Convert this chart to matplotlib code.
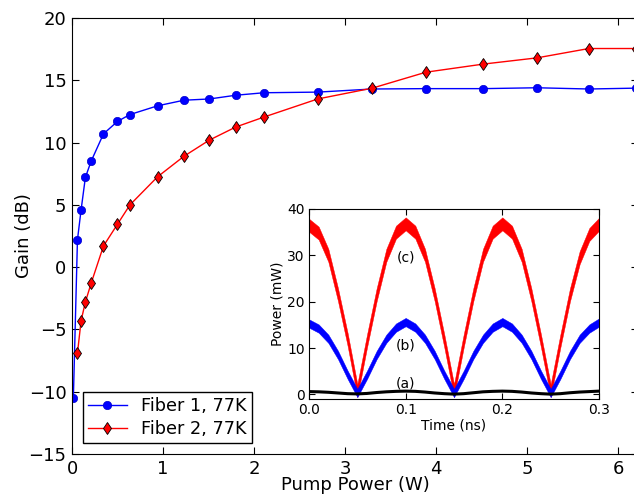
import matplotlib.pyplot as plt
import numpy as np

# Gain vs pump power, two fibers at 77 K
pump_w = [0.0, 0.015, 0.06, 0.10, 0.147, 0.21, 0.346, 0.50, 0.637, 0.94, 1.23,
          1.51, 1.80, 2.11, 2.70, 3.30, 3.89, 4.52, 5.11, 5.68, 6.20]
gain_fiber1 = [np.nan, -10.5, 2.2, 4.6, 7.2, 8.5, 10.7, 11.7, 12.25, 12.95, 13.4,
               13.5, 13.8, 14.0, 14.05, 14.3, 14.33, 14.33, 14.4, 14.3, 14.37]
gain_fiber2 = [-16.3, np.nan, -6.9, -4.3, -2.8, -1.3, 1.7, 3.45, 5.0, 7.25, 8.9,
               10.2, 11.25, 12.05, 13.5, 14.37, 15.65, 16.3, 16.8, 17.55, 17.55]

# Inset: output power traces (a), (b), (c)
time_ns = [0.00, 0.01, 0.02, 0.03, 0.04, 0.05, 0.06, 0.07, 0.08, 0.09, 0.10,
           0.11, 0.12, 0.13, 0.14, 0.15, 0.16, 0.17, 0.18, 0.19, 0.20,
           0.21, 0.22, 0.23, 0.24, 0.25, 0.26, 0.27, 0.28, 0.29, 0.30]
trace_c = [36.5, 34.8, 30.0, 21.5, 11.8, 0.8, 11.5, 21.5, 30.0, 35.0, 36.8,
           35.0, 30.0, 21.5, 11.5, 0.8, 11.5, 21.5, 30.0, 35.0, 36.8,
           35.0, 30.0, 21.5, 11.5, 0.8, 11.5, 21.5, 29.5, 34.5, 36.7]
trace_b = [15.3, 14.2, 12.0, 8.5, 4.2, 0.3, 4.2, 8.5, 12.0, 14.4, 15.6,
           14.4, 12.0, 8.5, 4.2, 0.3, 4.2, 8.5, 12.0, 14.4, 15.6,
           14.4, 12.0, 8.5, 4.2, 0.3, 4.2, 8.5, 12.0, 14.2, 15.5]
trace_a = [0.6, 0.55, 0.45, 0.3, 0.15, 0.1, 0.2, 0.4, 0.55, 0.65, 0.7,
           0.65, 0.5, 0.3, 0.15, 0.05, 0.15, 0.35, 0.55, 0.65, 0.7,
           0.65, 0.5, 0.3, 0.15, 0.05, 0.15, 0.35, 0.5, 0.6, 0.7]
noise_c = 1.4
noise_b = 0.9

plt.rcParams['font.family'] = 'DejaVu Sans'
plt.rcParams['xtick.direction'] = 'in'
plt.rcParams['ytick.direction'] = 'in'

fig = plt.figure(figsize=(6.34, 4.96), dpi=100)
ax = fig.add_axes([72 / 634, 42 / 496, 566 / 634, 436 / 496])

ax.plot(pump_w, gain_fiber1, '-o', color='#0000ff', lw=1.0, ms=6,
        mec='#0000cc', mew=0.5, label='Fiber 1, 77K')
ax.plot(pump_w, gain_fiber2, '-d', color='#ff0000', lw=1.0, ms=6.3,
        mec='k', mew=0.6, label='Fiber 2, 77K')

ax.set_xlim(0, 6.22)
ax.set_ylim(-15, 20)
ax.set_xticks(range(0, 7))
ax.set_yticks(range(-15, 21, 5))
ax.tick_params(labelsize=13, top=True, right=True, length=5, pad=4)
ax.set_xlabel('Pump Power (W)', fontsize=13, labelpad=-1)
ax.set_ylabel('Gain (dB)', fontsize=13)
ax.yaxis.set_label_coords(-0.069, 0.5)

leg = ax.legend(loc='lower left', fontsize=12.7, fancybox=False, framealpha=1,
                edgecolor='k', borderaxespad=0.6, handlelength=2.2,
                labelspacing=0.3, borderpad=0.3)
leg.get_frame().set_linewidth(1.0)

# inset with the time traces
ins = fig.add_axes([309 / 634, 97 / 496, 290 / 634, 190 / 496])
t = np.array(time_ns)
c = np.array(trace_c)
b = np.array(trace_b)
ins.fill_between(t, c - noise_c, c + noise_c, color='#ff0000', lw=0.3)
ins.fill_between(t, b - noise_b, b + noise_b, color='#0000ff', lw=0.3)
ins.plot(t, trace_a, color='k', lw=2.2)

ins.text(0.1, 29.5, '(c)', fontsize=10, ha='center', va='center')
ins.text(0.1, 10.5, '(b)', fontsize=10, ha='center', va='center')
ins.text(0.1, 2.3, '(a)', fontsize=10, ha='center', va='center')

ins.set_xlim(0, 0.3)
ins.set_ylim(-1, 40)
ins.set_xticks([0.0, 0.1, 0.2, 0.3])
ins.set_yticks([0, 10, 20, 30, 40])
ins.tick_params(labelsize=10, top=True, right=True, length=4, pad=3)
ins.set_xlabel('Time (ns)', fontsize=10, labelpad=1)
ins.set_ylabel('Power (mW)', fontsize=10, labelpad=2)

fig.savefig('out.png', dpi=100)
